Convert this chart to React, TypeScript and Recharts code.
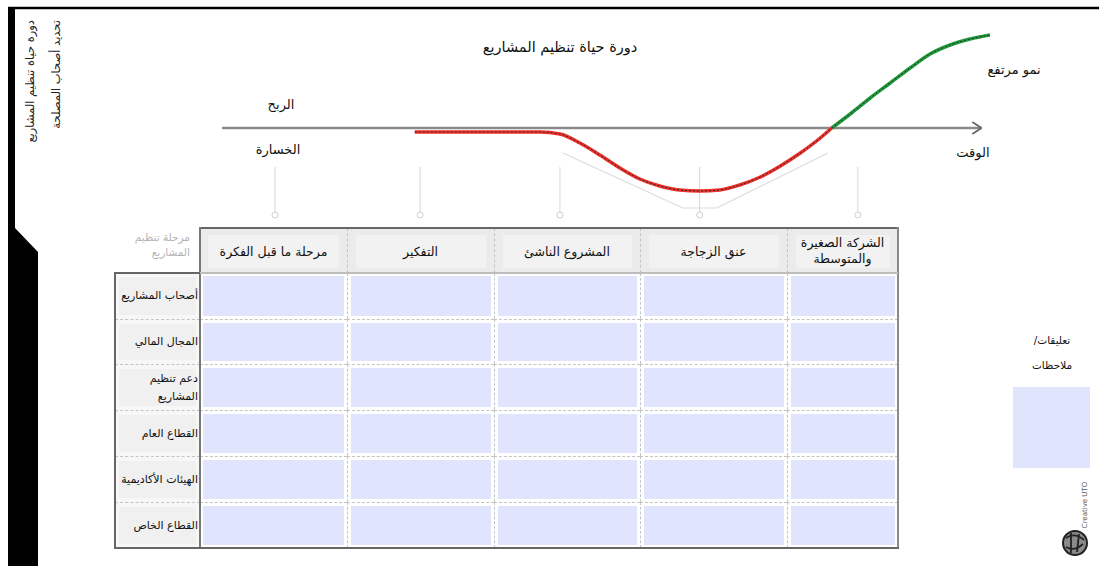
import React from 'react';
import { LineChart, Line, XAxis, YAxis, ReferenceLine, ReferenceDot } from 'recharts';

// curve: time on x, profit(+)/loss(-) on y
const timeSteps = [25.1, 33.6, 41.4, 44.0, 46.6, 49.2, 51.8, 54.4, 57.0, 59.6, 62.2, 64.8, 67.4, 70.1, 72.7, 75.3, 77.9, 79.4, 81.8, 84.4, 87.0, 89.6, 92.2, 94.8, 97.4, 100];
const profitLoss = [-4, -4, -4, -6, -15, -27, -40, -51, -58, -62, -63, -62, -57, -49, -38, -25, -10, 0, 14, 30, 45, 60, 74, 83, 89, 93];

// where each stage connector hangs from the time axis
const stageMarkers = [6.9, 25.8, 44.0, 62.2, 82.8];

const stages = ['مرحلة ما قبل الفكرة', 'التفكير', 'المشروع الناشئ', 'عنق الزجاجة', 'الشركة الصغيرة\nوالمتوسطة'];
const stakeholders = ['أصحاب المشاريع', 'المجال المالي', 'دعم تنظيم\nالمشاريع', 'القطاع العام', 'الهيئات الأكاديمية', 'القطاع الخاص'];

const FONT = '"DejaVu Sans", sans-serif';

const colX = [200, 347, 494, 640, 787, 898];
const rowY = [273, 319, 364, 410, 456, 502, 548];
const HEAD_TOP = 228;
const TABLE_LEFT = 115;

const crossIdx = profitLoss.indexOf(0);
const curveData = timeSteps.map((t, i) => ({
  t,
  all: profitLoss[i],
  loss: i <= crossIdx ? profitLoss[i] : null,
  gain: i >= crossIdx ? profitLoss[i] : null,
}));

const Txt = ({ x, y, children, size = 12, color = '#111', align = 'center', w }: any) => (
  <div
    dir="rtl"
    style={{
      position: 'absolute',
      left: x,
      top: y,
      transform: align === 'center' ? 'translate(-50%,-50%)' : 'translate(-100%,-50%)',
      fontSize: size,
      color,
      fontFamily: FONT,
      whiteSpace: 'pre',
      textAlign: align === 'center' ? 'center' : 'right',
      lineHeight: 1.35,
      width: w,
    }}
  >
    {children}
  </div>
);

const LifecycleCurve = () => (
  <div style={{ position: 'absolute', left: 222, top: 30 }}>
    <LineChart width={768} height={190} data={curveData} margin={{ top: 0, right: 0, bottom: 0, left: 0 }}>
      <XAxis dataKey="t" type="number" domain={[0, 100]} hide />
      <YAxis type="number" domain={[-92, 98]} hide allowDataOverflow />
      {stageMarkers.map((m) => (
        <ReferenceLine key={'v' + m} segment={[{ x: m, y: -39 }, { x: m, y: -84 }]} stroke="#d6d6d6" strokeWidth={1} ifOverflow="visible" />
      ))}
      {stageMarkers.map((m) => (
        <ReferenceDot key={'d' + m} x={m} y={-87} r={3} fill="#fff" stroke="#cfcfcf" strokeWidth={1} ifOverflow="visible" />
      ))}
      <ReferenceLine segment={[{ x: 44.4, y: -25 }, { x: 60.0, y: -80 }]} stroke="#dcdcdc" strokeWidth={1.2} ifOverflow="visible" />
      <ReferenceLine segment={[{ x: 60.0, y: -80 }, { x: 64.4, y: -80 }]} stroke="#dcdcdc" strokeWidth={1.2} ifOverflow="visible" />
      <ReferenceLine segment={[{ x: 64.4, y: -80 }, { x: 78.9, y: -25 }]} stroke="#dcdcdc" strokeWidth={1.2} ifOverflow="visible" />
      <ReferenceLine segment={[{ x: 0, y: 0 }, { x: 98.9, y: 0 }]} stroke="#8a8a8a" strokeWidth={2.5} ifOverflow="visible" />
      <ReferenceLine segment={[{ x: 97.7, y: 6 }, { x: 98.9, y: 0 }]} stroke="#6a6a6a" strokeWidth={2} ifOverflow="visible" />
      <ReferenceLine segment={[{ x: 97.7, y: -6 }, { x: 98.9, y: 0 }]} stroke="#6a6a6a" strokeWidth={2} ifOverflow="visible" />
      <Line type="monotone" dataKey="loss" stroke="#ee2f2a" strokeWidth={3.5} dot={false} isAnimationActive={false} />
      <Line type="monotone" dataKey="gain" stroke="#1f9a3c" strokeWidth={3.5} dot={false} isAnimationActive={false} />
      <Line type="monotone" dataKey="all" stroke="#2a2a2a" strokeWidth={1} strokeDasharray="2 2" dot={false} isAnimationActive={false} />
    </LineChart>
  </div>
);

const StageTable = () => (
  <>
    {/* header row */}
    {stages.map((s, i) => (
      <div key={s} style={{
        position: 'absolute', left: colX[i], top: HEAD_TOP, width: colX[i + 1] - colX[i], height: rowY[0] - HEAD_TOP,
        background: '#ebebeb', borderLeft: i > 0 ? '1px dashed #c4c4c4' : 'none', boxSizing: 'border-box',
      }}>
        <div style={{ position: 'absolute', left: 8, right: 8, top: 7, bottom: 5, background: '#f2f2f2' }} />
      </div>
    ))}
    {stages.map((s, i) => (
      <Txt key={'h' + s} x={(colX[i] + colX[i + 1]) / 2} y={(HEAD_TOP + rowY[0]) / 2 + 1} size={12.5}>{s}</Txt>
    ))}
    {/* body rows */}
    {stakeholders.map((r, j) => (
      <React.Fragment key={r}>
        <div style={{
          position: 'absolute', left: TABLE_LEFT, top: rowY[j], width: colX[0] - TABLE_LEFT, height: rowY[j + 1] - rowY[j],
          background: '#f7f7f7', borderTop: j > 0 ? '1px dashed #c4c4c4' : 'none', boxSizing: 'border-box',
        }}>
          <div style={{ position: 'absolute', left: 4, right: 4, top: 4, bottom: 4, background: '#f0f0f0' }} />
          <div dir="rtl" style={{
            position: 'absolute', left: 0, right: 2, top: 0, bottom: 0, display: 'flex', alignItems: 'center',
            justifyContent: 'flex-start', overflow: 'hidden', fontFamily: FONT, fontSize: 11, color: '#111',
            whiteSpace: 'pre', lineHeight: 1.6,
          }}>{r}</div>
        </div>
        {stages.map((s, i) => (
          <div key={s + r} style={{
            position: 'absolute', left: colX[i], top: rowY[j], width: colX[i + 1] - colX[i], height: rowY[j + 1] - rowY[j],
            background: '#fff', boxSizing: 'border-box',
            borderTop: j > 0 ? '1px dashed #c4c4c4' : 'none', borderLeft: i > 0 ? '1px dashed #c4c4c4' : 'none',
          }}>
            <div style={{ position: 'absolute', left: 3, right: 3, top: 3, bottom: 3, background: '#e0e4fc' }} />
          </div>
        ))}
      </React.Fragment>
    ))}
    {/* outer frame lines */}
    <div style={{ position: 'absolute', left: colX[0] - 1, top: HEAD_TOP - 1, width: colX[5] - colX[0] + 2, height: 2, background: '#666' }} />
    <div style={{ position: 'absolute', left: colX[0] - 1, top: HEAD_TOP - 1, width: 2, height: rowY[6] - HEAD_TOP + 2, background: '#777' }} />
    <div style={{ position: 'absolute', left: colX[5] - 1, top: HEAD_TOP - 1, width: 2, height: rowY[6] - HEAD_TOP + 2, background: '#8a8a8a' }} />
    <div style={{ position: 'absolute', left: colX[0], top: rowY[0] - 1, width: colX[5] - colX[0], height: 2, background: '#bdbdbd' }} />
    <div style={{ position: 'absolute', left: TABLE_LEFT - 1, top: rowY[0] - 1, width: colX[0] - TABLE_LEFT + 1, height: 2, background: '#666' }} />
    <div style={{ position: 'absolute', left: TABLE_LEFT - 1, top: rowY[0] - 1, width: 2, height: rowY[6] - rowY[0] + 2, background: '#666' }} />
    <div style={{ position: 'absolute', left: TABLE_LEFT - 1, top: rowY[6] - 1, width: colX[5] - TABLE_LEFT + 2, height: 2, background: '#666' }} />
  </>
);

export default function App() {
  return (
    <div style={{ position: 'absolute', left: 0, top: 0, width: 1099, height: 566, background: '#fff', overflow: 'hidden', fontFamily: FONT }}>
      <svg width={1099} height={566} style={{ position: 'absolute', left: 0, top: 0 }}>
        <line x1={8} y1={8} x2={1099} y2={8} stroke="#000" strokeWidth={2.5} />
        <polygon points="8,8 15,8 15,228 38,252 38,566 8,566" fill="#000" />
        {/* logo */}
        <circle cx={1075} cy={543} r={12} fill="#8a8a8a" stroke="#222" strokeWidth={2} />
        <path d="M1066,538 q9,-6 18,2 M1066,547 q8,5 17,-3 M1071,533 l0,20 M1079,534 l-2,18" stroke="#222" strokeWidth={1.8} fill="none" />
      </svg>

      {/* vertical side titles */}
      <div dir="rtl" style={{
        position: 'absolute', left: 43, top: 82, transform: 'translate(-50%,-50%) rotate(-90deg)',
        fontSize: 11.5, lineHeight: '26px', color: '#222', whiteSpace: 'pre', textAlign: 'right', width: 124,
      }}>{'دورة حياة تنظيم المشاريع\nتحديد أصحاب المصلحة'}</div>

      <Txt x={560} y={48} size={14.5}>دورة حياة تنظيم المشاريع</Txt>
      <Txt x={281} y={105} size={13}>الربح</Txt>
      <Txt x={278} y={150} size={13}>الخسارة</Txt>
      <Txt x={973} y={153} size={13}>الوقت</Txt>
      <Txt x={1014} y={70} size={13}>نمو مرتفع</Txt>

      <LifecycleCurve />

      <Txt x={190} y={237} size={10.5} color="#b3b3b3" align="right">مرحلة تنظيم</Txt>
      <Txt x={190} y={252} size={10.5} color="#b3b3b3" align="right">المشاريع</Txt>

      <StageTable />

      <Txt x={1052} y={340} size={10.5}>تعليقات/</Txt>
      <Txt x={1052} y={365} size={10.5}>ملاحظات</Txt>
      <div style={{ position: 'absolute', left: 1013, top: 387, width: 77, height: 81, background: '#e0e4fc' }} />
      <div style={{
        position: 'absolute', left: 1085, top: 505, transform: 'translate(-50%,-50%) rotate(-90deg)',
        fontSize: 7, color: '#555', whiteSpace: 'nowrap', fontFamily: FONT,
      }}>Creative UTO</div>
    </div>
  );
}
